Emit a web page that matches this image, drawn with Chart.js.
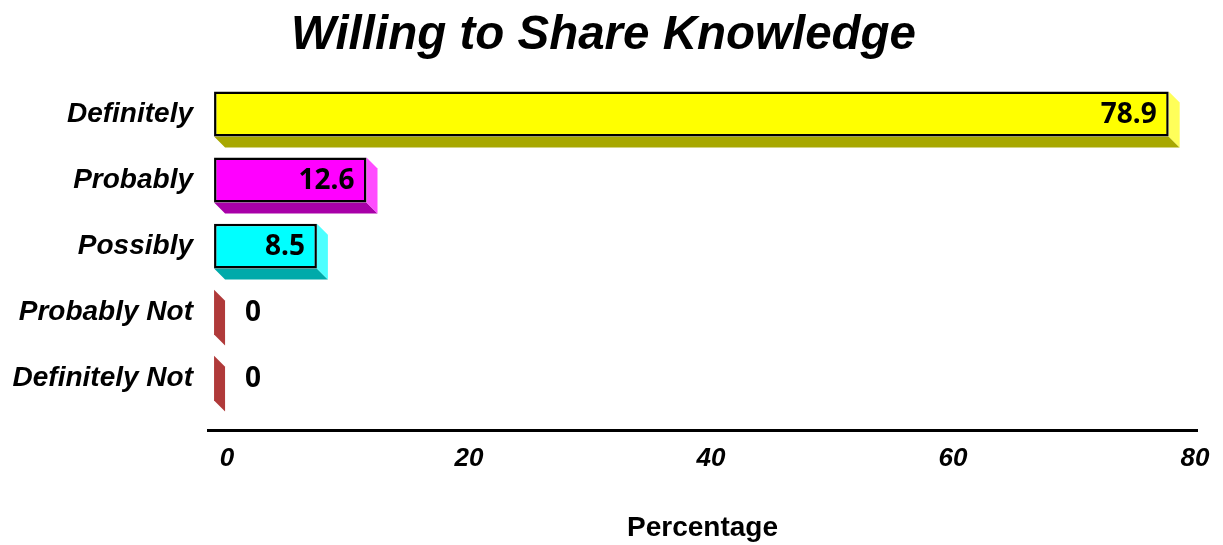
<!DOCTYPE html>
<html>
<head>
<meta charset="utf-8">
<title>Willing to Share Knowledge</title>
<script src="https://cdn.jsdelivr.net/npm/chart.js@4.4.1/dist/chart.umd.min.js"></script>
<style>
  html, body { margin: 0; padding: 0; background: #fff; }
  #chart { display: block; }
</style>
</head>
<body>
<canvas id="chart" width="1223" height="545"></canvas>
<script>
const categories = ['Definitely', 'Probably', 'Possibly', 'Probably Not', 'Definitely Not'];
const percentages = [78.9, 12.6, 8.5, 0, 0];
const tickValues = [0, 20, 40, 60, 80];

// face colours of the fake 3D boxes
const frontColors = ['#ffff00', '#ff00ff', '#00ffff', '#b03a3a', '#b03a3a'];
const sideColors = ['#ffff5a', '#ff4cff', '#4cffff', '#b03a3a', '#b03a3a'];
const bottomColors = ['#a8a800', '#a800a8', '#00aaaa', '#7a2020', '#7a2020'];
const DEPTH = 11;

const FONT = "'Liberation Sans', Arial, sans-serif";

// Draw the side + bottom faces behind each bar, then the value labels
const depthPlugin = {
  id: 'depth',
  beforeDatasetsDraw(chart) {
    const ctx = chart.ctx;
    chart.getDatasetMeta(0).data.forEach((bar, i) => {
      const p = bar.getProps(['x', 'y', 'base', 'height'], true);
      const top = p.y - p.height / 2;
      const bottom = p.y + p.height / 2;
      ctx.save();
      ctx.fillStyle = bottomColors[i];
      ctx.beginPath();
      ctx.moveTo(p.base, bottom);
      ctx.lineTo(p.x, bottom);
      ctx.lineTo(p.x + DEPTH, bottom + DEPTH);
      ctx.lineTo(p.base + DEPTH, bottom + DEPTH);
      ctx.closePath();
      ctx.fill();
      ctx.fillStyle = sideColors[i];
      ctx.beginPath();
      ctx.moveTo(p.x, top);
      ctx.lineTo(p.x + DEPTH, top + DEPTH);
      ctx.lineTo(p.x + DEPTH, bottom + DEPTH);
      ctx.lineTo(p.x, bottom);
      ctx.closePath();
      ctx.fill();
      ctx.restore();
    });
  },
  afterDatasetsDraw(chart) {
    const ctx = chart.ctx;
    ctx.save();
    ctx.font = "bold 28px 'Noto Sans', sans-serif";
    ctx.fillStyle = '#000';
    ctx.textBaseline = 'middle';
    chart.getDatasetMeta(0).data.forEach((bar, i) => {
      const v = percentages[i];
      const p = bar.getProps(['x', 'y', 'base'], true);
      if (v > 0) {
        ctx.textAlign = 'right';
        ctx.fillText(String(v), p.x - 12, p.y + 1);
      } else {
        ctx.textAlign = 'left';
        ctx.fillText(String(v), p.base + 31, p.y + 1);
      }
    });
    ctx.restore();
  }
};

const ctx = document.getElementById('chart').getContext('2d');
new Chart(ctx, {
  type: 'bar',
  data: {
    labels: categories,
    datasets: [{
      data: percentages,
      backgroundColor: frontColors,
      borderColor: '#000',
      borderWidth: percentages.map(v => v > 0 ? 2.5 : 0),
      borderSkipped: false,
      barPercentage: 0.68,
      categoryPercentage: 1
    }]
  },
  options: {
    indexAxis: 'y',
    responsive: false,
    animation: false,
    layout: { padding: { left: 10, right: 26, top: 0, bottom: 0 } },
    plugins: {
      legend: { display: false },
      tooltip: { enabled: false },
      title: {
        display: true,
        text: 'Willing to Share Knowledge',
        color: '#000',
        font: { family: FONT, size: 47.5, weight: 'bold', style: 'italic' },
        padding: { top: 7, bottom: 17 }
      }
    },
    scales: {
      x: {
        min: -0.5,
        max: 81.24,
        afterBuildTicks: axis => { axis.ticks = tickValues.map(v => ({ value: v })); },
        grid: { display: false, drawTicks: false },
        border: { display: true, color: '#000', width: 3 },
        ticks: {
          color: '#000',
          padding: 13,
          labelOffset: 13,
          maxRotation: 0,
          font: { family: FONT, size: 26, weight: 'bold', style: 'italic' }
        },
        title: {
          display: true,
          text: 'Percentage',
          color: '#000',
          font: { family: FONT, size: 28, weight: 'bold' },
          padding: { top: 24, bottom: 0 }
        }
      },
      y: {
        // leave a gap between the last bar and the x axis line
        afterBuildTicks: axis => { axis._valueRange += 0.288; },
        afterFit: axis => { axis.width = 198; },
        grid: { display: false, drawTicks: false },
        border: { display: false },
        ticks: {
          color: '#000',
          padding: 15,
          font: { family: FONT, size: 28, weight: 'bold', style: 'italic' }
        }
      }
    }
  },
  plugins: [depthPlugin]
});
</script>
</body>
</html>
